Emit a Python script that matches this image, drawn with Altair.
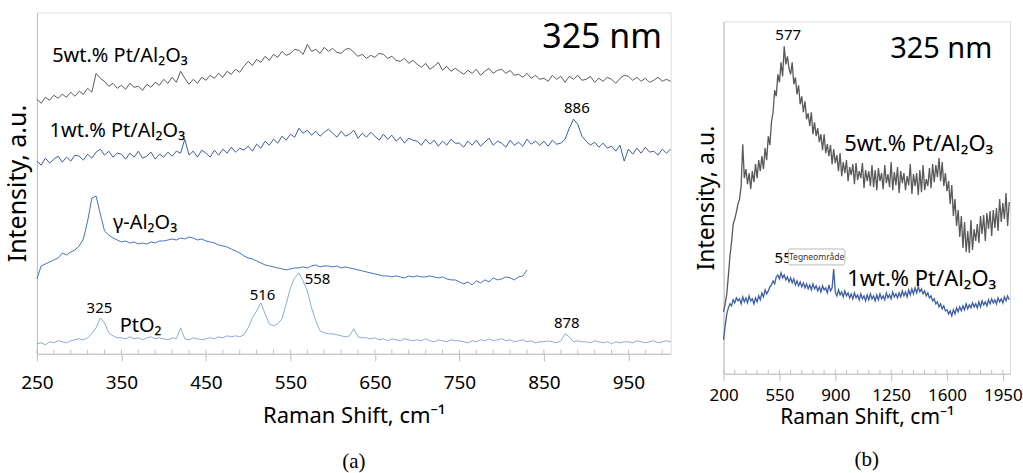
import altair as alt
import pandas as pd

FONT = "Noto Sans"
AXC = "#bfbfbf"

# ---------------- panel (a) data (Raman shift, cm-1 ; intensity a.u.) ----------------
shift_a = list(range(250, 1001, 5))
shift_gamma = list(range(250, 831, 5))

pt5_a = [
    255, 251, 257, 254, 259, 256, 260, 257, 262, 258,
    263, 260, 266, 262, 281, 276, 273, 268, 271, 266,
    269, 265, 271, 267, 268, 264, 270, 267, 272, 269,
    275, 271, 277, 272, 283, 276, 270, 275, 271, 277,
    274, 279, 276, 281, 277, 283, 280, 285, 282, 288,
    293, 289, 295, 292, 298, 294, 300, 297, 303, 299,
    301, 305, 304, 300, 310, 303, 305, 301, 307, 303,
    306, 302, 301, 305, 306, 302, 298, 300, 296, 299,
    297, 301, 300, 296, 298, 294, 293, 296, 291, 294,
    290, 287, 291, 285, 288, 292, 284, 288, 283, 286,
    283, 280, 284, 281, 285, 279, 283, 286, 281, 284,
    285, 281, 284, 279, 280, 277, 281, 276, 279, 275,
    276, 273, 279, 275, 278, 272, 278, 275, 279, 274,
    275, 278, 272, 276, 273, 277, 275, 271, 276, 279,
    278, 274, 277, 273, 276, 272, 274, 277, 273, 275,
    273,
]
pt1_a = [
    193, 189, 196, 191, 195, 198, 192, 197, 193, 199,
    198, 194, 200, 196, 202, 205, 199, 203, 197, 201,
    200, 195, 201, 197, 203, 196, 198, 202, 195, 200,
    197, 202, 198, 203, 201, 215, 199, 203, 197, 204,
    201, 197, 204, 199, 205, 201, 207, 202, 206, 204,
    208, 203, 210, 206, 213, 209, 215, 211, 218, 214,
    220, 217, 226, 221, 224, 219, 223, 218, 222, 225,
    221, 217, 223, 218, 220, 224, 216, 221, 217, 222,
    218, 214, 220, 215, 219, 213, 217, 211, 216, 214,
    213, 209, 215, 210, 214, 208, 213, 209, 215, 211,
    211, 207, 213, 209, 214, 208, 212, 216, 209, 213,
    211, 207, 214, 209, 212, 208, 215, 210, 213, 209,
    213, 208, 214, 210, 211, 215, 226, 235, 230, 218,
    213, 209, 212, 207, 211, 206, 208, 203, 209, 193,
    205, 200, 206, 201, 207, 202, 203, 199, 205, 201,
    205,
]
gamma_a = [
    75, 88, 90, 92, 94, 96, 101, 99, 102, 104,
    108, 115, 133, 156, 158, 140, 123, 119, 116, 114,
    112, 113, 111, 112, 110, 111, 110, 112, 111, 113,
    113, 114, 115, 114, 116, 115, 117, 116, 114, 115,
    113, 112, 111, 109, 108, 107, 105, 103, 101, 98,
    96, 95, 93, 91, 89, 88, 87, 86, 85, 84,
    85, 86, 86, 87, 86, 88, 89, 87, 88, 88,
    87, 88, 86, 87, 86, 85, 84, 83, 82, 81,
    80, 79, 78, 78, 77, 78, 77, 76, 78, 77,
    78, 77, 77, 78, 77, 76, 77, 75, 74, 74,
    72, 70, 72, 69, 73, 71, 74, 72, 76, 74,
    75, 77, 76, 74, 77, 78, 84,
]
pto2_a = [
    10, 11, 9, 12, 11, 13, 12, 11, 13, 14,
    15, 14, 16, 20, 26, 36, 31, 21, 18, 16,
    16, 15, 17, 15, 16, 14, 16, 17, 15, 16,
    15, 14, 16, 15, 26, 15, 14, 16, 15, 14,
    15, 16, 15, 17, 16, 18, 17, 18, 17, 19,
    26, 36, 43, 51, 40, 30, 28, 30, 35, 50,
    66, 76, 81, 73, 63, 46, 33, 23, 21, 20,
    20, 19, 18, 17, 18, 25, 17, 16, 16, 15,
    16, 14, 15, 13, 15, 14, 13, 15, 14, 13,
    14, 13, 15, 13, 12, 14, 13, 12, 14, 13,
    13, 12, 11, 13, 12, 14, 13, 15, 13, 14,
    15, 13, 14, 12, 13, 14, 12, 13, 11, 12,
    12, 13, 12, 11, 13, 20, 17, 12, 13, 12,
    12, 11, 13, 12, 11, 12, 10, 12, 11, 12,
    12, 11, 13, 12, 11, 12, 13, 11, 12, 13,
    12,
]

# ---------------- panel (b) data ----------------
shift_b = list(range(200, 1991, 10))
pt5_b = [
    62, 70, 80, 98, 118, 132, 150, 155, 162, 170,
    175, 188, 230, 196, 205, 190, 201, 185, 203, 192,
    210, 196, 214, 203, 218, 205, 226, 214, 238, 229,
    252, 262, 284, 278, 300, 292, 312, 298, 328, 310,
    318, 306, 300, 312, 290, 297, 280, 289, 270, 278,
    262, 273, 255, 261, 248, 262, 240, 252, 238, 246,
    232, 240, 224, 240, 221, 230, 218, 229, 210, 225,
    211, 219, 203, 221, 198, 212, 201, 214, 193, 207,
    199, 210, 190, 211, 194, 203, 196, 211, 186, 204,
    193, 203, 188, 209, 187, 204, 184, 206, 193, 201,
    185, 209, 191, 200, 187, 212, 184, 202, 189, 207,
    181, 203, 191, 201, 184, 198, 189, 210, 180, 200,
    188, 201, 179, 204, 182, 209, 184, 195, 188, 206,
    186, 210, 192, 209, 197, 216, 193, 212, 188, 201,
    183, 193, 170, 189, 158, 175, 148, 164, 137, 158,
    126, 152, 122, 143, 121, 154, 124, 145, 133, 150,
    131, 158, 140, 159, 133, 161, 145, 163, 138, 164,
    146, 166, 143, 175, 152, 171, 155, 181, 148, 172,
]
pt1_b = [
    34, 48, 60, 66, 70, 68, 74, 71, 76, 73,
    75, 70, 77, 72, 76, 71, 78, 73, 75, 70,
    76, 72, 78, 74, 81, 77, 84, 80, 83, 87,
    89, 93, 90, 97, 99, 95, 101, 96, 99, 94,
    97, 92, 96, 91, 95, 89, 93, 88, 92, 87,
    91, 86, 90, 85, 89, 84, 90, 85, 88, 83,
    87, 82, 88, 84, 86, 81, 89, 83, 86, 105,
    82, 78, 84, 79, 82, 77, 83, 78, 81, 76,
    80, 75, 81, 76, 79, 74, 80, 75, 78, 73,
    79, 74, 80, 75, 78, 73, 79, 74, 80, 75,
    78, 74, 81, 76, 79, 75, 82, 77, 80, 76,
    81, 77, 83, 78, 82, 77, 84, 79, 85, 80,
    86, 81, 87, 82, 85, 80, 83, 78, 81, 76,
    78, 73, 75, 70, 72, 67, 70, 65, 68, 63,
    64, 60, 63, 58, 64, 60, 66, 62, 67, 63,
    68, 64, 70, 65, 69, 66, 71, 67, 70, 66,
    72, 67, 73, 69, 72, 68, 74, 70, 75, 71,
    74, 70, 76, 72, 75, 71, 77, 73, 78, 74,
]

# tick positions
major_a = [250, 350, 450, 550, 650, 750, 850, 950]
minor_a = list(range(250, 1001, 20))
major_b = [200, 550, 900, 1250, 1600, 1950]
minor_b = list(range(200, 1991, 70))

# annotations
lab_a_text = ["5wt.% Pt/Al₂O₃", "1wt.% Pt/Al₂O₃", "γ-Al₂O₃", "PtO₂", "325 nm"]
lab_a_x = [268, 265, 340, 348, 848]
lab_a_y = [298, 223, 131, 28, 316]
lab_a_size = [20, 20, 20, 20, 34]
peak_a_text = ["325", "516", "558", "878", "886"]
peak_a_x = [324, 517, 582, 877, 889]
peak_a_y = [46, 59, 75, 31, 246]

lab_b_text = ["325 nm", "5wt.% Pt/Al₂O₃", "1wt.% Pt/Al₂O₃"]
lab_b_x = [1244, 956, 975]
lab_b_y = [325, 230, 95]
lab_b_size = [29, 22, 22]
peak_b_text = ["577", "556"]
peak_b_x = [605, 600]
peak_b_y = [339, 116]

# ---------------- scales ----------------
XA = alt.Scale(domain=[250, 1000], nice=False, zero=False)
YA = alt.Scale(domain=[0, 342], nice=False, zero=False)
XB = alt.Scale(domain=[200, 1995], nice=False, zero=False)
YB = alt.Scale(domain=[0, 353], nice=False, zero=False)


def x_axis(values, fs, tfs, lpad, tpad):
    return alt.Axis(values=values, title="Raman Shift, cm⁻¹", grid=False, format="d",
                    tickSize=7, tickColor=AXC, domainColor=AXC,
                    labelFont=FONT, labelFontSize=fs, labelColor="#000000",
                    labelPadding=lpad, labelFlush=False,
                    titleFont=FONT, titleFontSize=tfs, titleFontWeight="normal",
                    titleColor="#000000", titlePadding=tpad)


def y_axis(tfs, tpad):
    return alt.Axis(title="Intensity, a.u.", labels=False, ticks=False, grid=False,
                    domainColor=AXC, titleFont=FONT, titleFontSize=tfs,
                    titleFontWeight="normal", titleColor="#000000", titlePadding=tpad)


# ---------------- panel (a) ----------------
series_a = (
    [("5wt.% Pt/Al2O3", s, v) for s, v in zip(shift_a, pt5_a)]
    + [("1wt.% Pt/Al2O3", s, v) for s, v in zip(shift_a, pt1_a)]
    + [("g-Al2O3", s, v) for s, v in zip(shift_gamma, gamma_a)]
    + [("PtO2", s, v) for s, v in zip(shift_a, pto2_a)]
)
df_a = pd.DataFrame(series_a, columns=["series", "shift", "val"])

lines_a = alt.Chart(df_a).mark_line(strokeWidth=1).encode(
    x=alt.X("shift:Q", scale=XA, axis=x_axis(major_a, 19, 22, 13, 13)),
    y=alt.Y("val:Q", scale=YA, axis=y_axis(25, 6)),
    color=alt.Color("series:N", legend=None, scale=alt.Scale(
        domain=["5wt.% Pt/Al2O3", "1wt.% Pt/Al2O3", "g-Al2O3", "PtO2"],
        range=["#595959", "#3b5ca6", "#4472c4", "#8eaadb"])),
    detail="series:N",
)

ticks_a = alt.Chart(pd.DataFrame({"t": minor_a})).mark_rule(color=AXC, strokeWidth=1).encode(
    x=alt.X("t:Q", scale=XA), y=alt.datum(0, scale=YA), y2=alt.datum(4))

labs_a = alt.Chart(pd.DataFrame({"x": lab_a_x, "y": lab_a_y, "t": lab_a_text, "s": lab_a_size})).mark_text(
    align="left", baseline="middle", font=FONT, color="#000000").encode(
    x=alt.X("x:Q", scale=XA), y=alt.Y("y:Q", scale=YA), text="t:N",
    size=alt.Size("s:Q", scale=None))

peaks_a = alt.Chart(pd.DataFrame({"x": peak_a_x, "y": peak_a_y, "t": peak_a_text})).mark_text(
    align="center", baseline="middle", font=FONT, fontSize=15, color="#000000").encode(
    x=alt.X("x:Q", scale=XA), y=alt.Y("y:Q", scale=YA), text="t:N")

chart_a = alt.layer(lines_a, ticks_a, labs_a, peaks_a).properties(
    width=635, height=342,
    title=alt.TitleParams("(a)", orient="bottom", font="Liberation Serif", fontSize=21,
                          fontWeight="normal", color="#000000", offset=24, anchor="middle"))

# ---------------- panel (b) ----------------
series_b = (
    [("5wt", s, v) for s, v in zip(shift_b, pt5_b)]
    + [("1wt", s, v) for s, v in zip(shift_b, pt1_b)]
)
df_b = pd.DataFrame(series_b, columns=["series", "shift", "val"])

lines_b = alt.Chart(df_b).mark_line(strokeWidth=1.3).encode(
    x=alt.X("shift:Q", scale=XB, axis=x_axis(major_b, 17, 21, 7, 3)),
    y=alt.Y("val:Q", scale=YB, axis=y_axis(23, 5)),
    color=alt.Color("series:N", legend=None, scale=alt.Scale(
        domain=["5wt", "1wt"], range=["#333f50", "#2f5597"])),
    detail="series:N",
)

ticks_b = alt.Chart(pd.DataFrame({"t": minor_b})).mark_rule(color=AXC, strokeWidth=1).encode(
    x=alt.X("t:Q", scale=XB), y=alt.datum(0, scale=YB), y2=alt.datum(4))

labs_b = alt.Chart(pd.DataFrame({"x": lab_b_x, "y": lab_b_y, "t": lab_b_text, "s": lab_b_size})).mark_text(
    align="left", baseline="middle", font=FONT, color="#000000").encode(
    x=alt.X("x:Q", scale=XB), y=alt.Y("y:Q", scale=YB), text="t:N",
    size=alt.Size("s:Q", scale=None))

peaks_b = alt.Chart(pd.DataFrame({"x": peak_b_x, "y": peak_b_y, "t": peak_b_text})).mark_text(
    align="center", baseline="middle", font=FONT, fontSize=15, color="#000000").encode(
    x=alt.X("x:Q", scale=XB), y=alt.Y("y:Q", scale=YB), text="t:N")

tip_box = alt.Chart(pd.DataFrame({"x": [606], "x2": [960], "y": [109], "y2": [125]})).mark_rect(
    fill="#ffffff", stroke="#a6a6a6", strokeWidth=0.8, cornerRadius=2).encode(
    x=alt.X("x:Q", scale=XB), x2="x2:Q", y=alt.Y("y:Q", scale=YB), y2="y2:Q")

tip_text = alt.Chart(pd.DataFrame({"x": [783], "y": [117], "t": ["Tegneområde"]})).mark_text(
    align="center", baseline="middle", font=FONT, fontSize=8.5, color="#333333").encode(
    x=alt.X("x:Q", scale=XB), y=alt.Y("y:Q", scale=YB), text="t:N")

chart_b = alt.layer(lines_b, ticks_b, labs_b, peaks_b, tip_box, tip_text).properties(
    width=287, height=353,
    title=alt.TitleParams("(b)", orient="bottom", font="Liberation Serif", fontSize=21,
                          fontWeight="normal", color="#000000", offset=21, anchor="middle"))

spacer = alt.Chart(pd.DataFrame({"a": [0]})).mark_point(opacity=0).encode(
    x=alt.X("a:Q", axis=None), y=alt.Y("a:Q", axis=None)).properties(
    width=10, height=8, view=alt.ViewBackground(strokeOpacity=0))

chart = alt.hconcat(chart_a, alt.vconcat(spacer, chart_b, spacing=0), spacing=21).properties(
    padding={"left": 5, "top": 11, "right": 0, "bottom": 0}
).configure_view(stroke="#d9d9d9").configure(background="#ffffff")

chart.save("out.html", embed_options={"renderer": "svg", "actions": False})
